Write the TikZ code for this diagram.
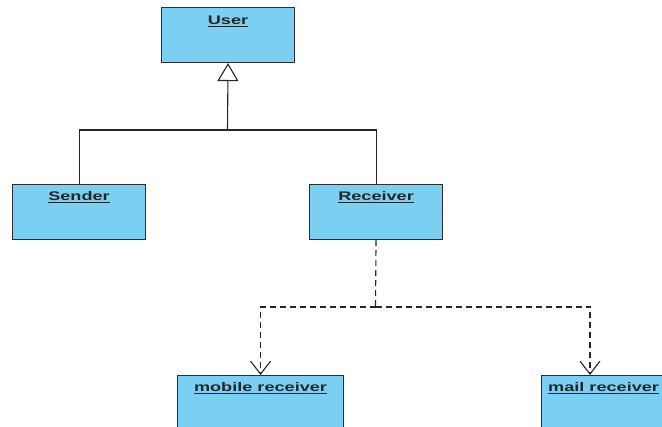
\documentclass[tikz,border=0pt]{standalone}
\usepackage{fontspec}
\newfontfamily\umlfont[FakeStretch=1.45]{Liberation Sans}
\usetikzlibrary{arrows.meta}
\definecolor{classfill}{RGB}{122,207,243}
\definecolor{classline}{RGB}{45,45,45}
\tikzset{
  umlclass/.style={draw=classline, line width=1.1pt, fill=classfill,
    rectangle, minimum width=133pt, minimum height=55pt, inner sep=0pt,
    anchor=north west},
  classname/.style={font=\umlfont\bfseries\fontsize{12.5}{14}\selectfont,
    text=black!85, anchor=base, inner sep=0pt},
  generalization/.style={draw=black!85, line width=1.1pt,
    -{Triangle[open, length=18pt, width=21pt, line width=1.1pt]}},
  inheritline/.style={draw=black!85, line width=1.1pt},
  dependency/.style={draw=black!85, line width=1.1pt,
    dash pattern=on 6pt off 4pt,
    -{Straight Barb[length=13pt, width=20pt, line width=1.1pt]}},
  dependencyline/.style={draw=black!85, line width=1.1pt,
    dash pattern=on 6pt off 4pt}
}
\begin{document}
\begin{tikzpicture}[x=1pt, y=-1pt]
\useasboundingbox (0,0) rectangle (662,427);
\clip (0,0) rectangle (662,427);

% class boxes
\node[umlclass] (user) at (161,7) {};
\node[umlclass] (sender) at (12,184) {};
\node[umlclass] (receiver) at (309,184) {};
\node[umlclass, minimum width=166pt] (mobile) at (177,375) {};
\node[umlclass, minimum width=166pt] (mail) at (541,375) {};

% underlined class names
\node[classname] (userlbl) at ([yshift=-18pt]user.north) {\underline{User}};
\node[classname] (senderlbl) at ([yshift=-17pt]sender.north) {\underline{Sender}};
\node[classname] (receiverlbl) at ([yshift=-17pt]receiver.north) {\underline{Receiver}};
\node[classname] (mobilelbl) at ([yshift=-17pt]mobile.north) {\underline{mobile receiver}};
\node[classname, anchor=base west] (maillbl) at ([xshift=7pt, yshift=-17pt]mail.north west) {\underline{mail receiver}};

% generalization tree
\coordinate (joint) at (227.5,130);
\draw[inheritline] (sender.north) |- (joint) -| (receiver.north);
\draw[generalization] (joint) -- (user.south);

% dependencies
\coordinate (split) at (375.5,307);
\coordinate (mailtip) at (590,375);
\draw[dependencyline] (receiver.south) -- (split);
\draw[dependency] (split) -| (mobile.north);
\draw[dependency] (split) -| (mailtip);
\end{tikzpicture}
\end{document}
